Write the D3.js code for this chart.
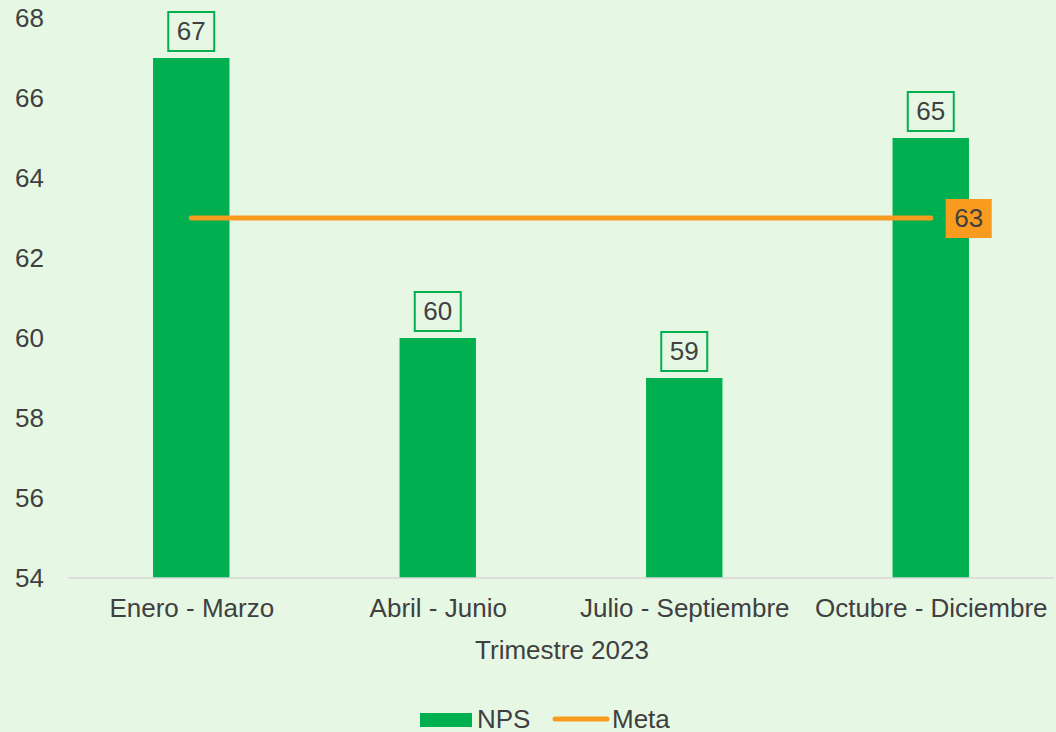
<!DOCTYPE html>
<html>
<head>
<meta charset="utf-8">
<script src="https://cdn.jsdelivr.net/npm/d3@7"></script>
<style>
  body { margin: 0; background: #e6f8e4; }
  svg { display: block; font-family: "Liberation Sans", Arial, sans-serif; }
</style>
</head>
<body>
<div id="chart-area"></div>
<script>
// data
var categories = ["Enero - Marzo", "Abril - Junio", "Julio - Septiembre", "Octubre - Diciembre"];
var npsValues = [67, 60, 59, 65];
var metaValues = [63, 63, 63, 63];
var yTicks = [54, 56, 58, 60, 62, 64, 66, 68];

var W = 1056, H = 732;
var margin = { left: 68, right: 2, top: 18, bottom: 154 };
var width = W - margin.left - margin.right,
    height = H - margin.top - margin.bottom;

var textColor = "#404040",
    green = "#00b050",
    orange = "#f99b1f",
    fontSize = "26px";

var svg = d3.select("#chart-area")
    .append("svg")
        .attr("width", W)
        .attr("height", H);

svg.append("rect")
    .attr("width", W).attr("height", H)
    .attr("fill", "#e6f8e4");

var g = svg.append("g")
    .attr("transform", "translate(" + margin.left + "," + margin.top + ")");

var x = d3.scaleBand()
    .domain(categories)
    .range([0, width])
    .paddingInner(0.69)
    .paddingOuter(0.345);

var xc = d3.scalePoint()
    .domain(categories)
    .range([0, width])
    .padding(0.5);

var y = d3.scaleLinear()
    .domain([54, 68])
    .range([height, 0]);

// Y axis (labels only)
var yAxis = g.append("g")
    .call(d3.axisLeft(y).tickValues(yTicks).tickSize(0).tickPadding(24));
yAxis.select(".domain").remove();
yAxis.selectAll("text")
    .attr("font-size", fontSize)
    .attr("font-family", "Liberation Sans, Arial, sans-serif")
    .attr("fill", textColor);

// bars
g.selectAll("rect.bar")
    .data(npsValues)
    .enter()
    .append("rect")
        .attr("class", "bar")
        .attr("x", (d, i) => x(categories[i]))
        .attr("y", d => y(d))
        .attr("width", x.bandwidth())
        .attr("height", d => height - y(d))
        .attr("fill", green);

// baseline
g.append("line")
    .attr("x1", 0).attr("x2", width)
    .attr("y1", height).attr("y2", height)
    .attr("stroke", "#d9d9d9")
    .attr("stroke-width", 1.5);

// X axis
var xAxis = g.append("g")
    .attr("transform", "translate(0," + height + ")")
    .call(d3.axisBottom(xc).tickSize(0).tickPadding(21));
xAxis.select(".domain").remove();
xAxis.selectAll("text")
    .attr("font-size", fontSize)
    .attr("font-family", "Liberation Sans, Arial, sans-serif")
    .attr("fill", textColor);

// axis title
g.append("text")
    .attr("x", 494)
    .attr("y", height + 81)
    .attr("text-anchor", "middle")
    .attr("font-size", fontSize)
    .attr("fill", textColor)
    .text("Trimestre 2023");

// bar labels
var barLabels = g.selectAll("g.barlabel")
    .data(npsValues)
    .enter()
    .append("g")
        .attr("class", "barlabel")
        .attr("transform", (d, i) => "translate(" + xc(categories[i]) + "," + (y(d) - 27) + ")");

barLabels.append("rect")
    .attr("x", -23).attr("y", -19)
    .attr("width", 46).attr("height", 39)
    .attr("fill", "none")
    .attr("stroke", green)
    .attr("stroke-width", 2);

barLabels.append("text")
    .attr("text-anchor", "middle")
    .attr("dy", "0.36em")
    .attr("font-size", fontSize)
    .attr("fill", textColor)
    .text(d => d);

// meta line
var line = d3.line()
    .x((d, i) => xc(categories[i]))
    .y(d => y(d));

g.append("path")
    .datum(metaValues)
    .attr("d", line)
    .attr("fill", "none")
    .attr("stroke", orange)
    .attr("stroke-width", 5)
    .attr("stroke-linecap", "round");

// meta label (last point)
var last = metaValues.length - 1;
var ml = g.append("g")
    .attr("transform", "translate(" + (xc(categories[last]) + 38) + "," + y(metaValues[last]) + ")");
ml.append("rect")
    .attr("x", -23).attr("y", -19)
    .attr("width", 46).attr("height", 39)
    .attr("fill", orange);
ml.append("text")
    .attr("text-anchor", "middle")
    .attr("dy", "0.36em")
    .attr("font-size", fontSize)
    .attr("fill", textColor)
    .text(metaValues[last]);

// legend
var legend = svg.append("g")
    .attr("transform", "translate(0,719)");

legend.append("rect")
    .attr("x", 420).attr("y", -6)
    .attr("width", 52).attr("height", 14)
    .attr("fill", green);
legend.append("text")
    .attr("x", 477).attr("dy", "0.36em")
    .attr("font-size", fontSize)
    .attr("fill", textColor)
    .text("NPS");

legend.append("line")
    .attr("x1", 555).attr("x2", 607)
    .attr("y1", 0).attr("y2", 0)
    .attr("stroke", orange)
    .attr("stroke-width", 5)
    .attr("stroke-linecap", "round");
legend.append("text")
    .attr("x", 612).attr("dy", "0.36em")
    .attr("font-size", fontSize)
    .attr("fill", textColor)
    .text("Meta");
</script>
</body>
</html>
